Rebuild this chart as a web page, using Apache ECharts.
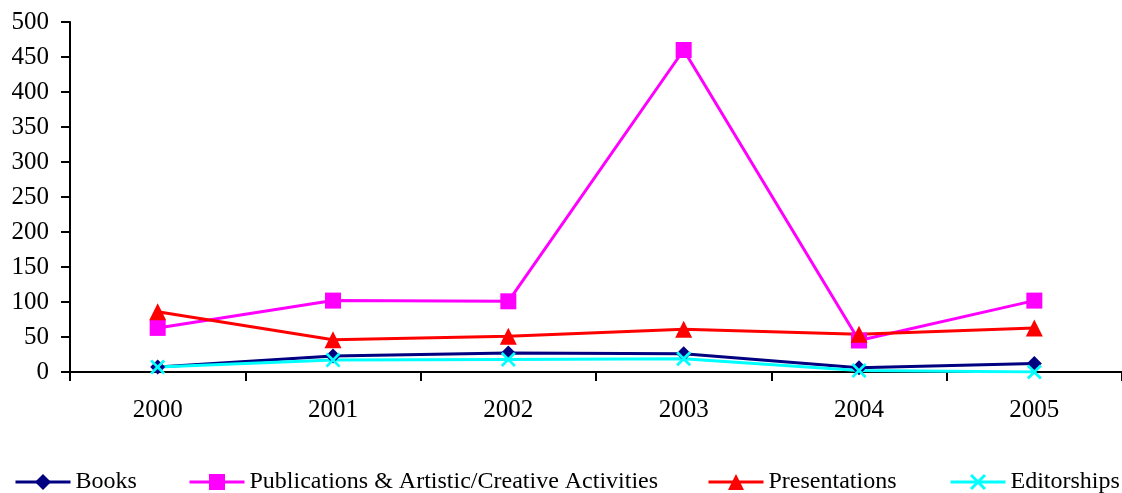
<!DOCTYPE html>
<html><head><meta charset="utf-8">
<script src="https://cdn.jsdelivr.net/npm/echarts@6/dist/echarts.min.js"></script>
<style>html,body{margin:0;padding:0;background:#fff}#c{width:1122px;height:493px}</style>
</head><body><div id="c"></div>
<script>
const categories = ['2000','2001','2002','2003','2004','2005'];
const books = [7, 23, 27, 26, 6, 12];
const publications = [63, 102, 101, 460, 45, 102];
const presentations = [86, 46, 51, 61, 54, 63];
const editorships = [7, 17, 18, 19, 2, 0];
const yTicks = [0, 50, 100, 150, 200, 250, 300, 350, 400, 450, 500];

const font = 'Liberation Serif';
const xPath = 'path://M0,1.3 L1.3,0 L5,3.7 L8.7,0 L10,1.3 L6.3,5 L10,8.7 L8.7,10 L5,6.3 L1.3,10 L0,8.7 L3.7,5 Z';

function mk(name, data, color, symbol, size) {
  return {
    name, type: 'line', data, symbol, symbolSize: size,
    lineStyle: { color, width: 3 }, itemStyle: { color },
    animation: false
  };
}
function lg(name, left) {
  return {
    data: [name], left, top: 470, itemWidth: 55, itemHeight: 20,
    lineStyle: { width: 3 },
    textStyle: { fontFamily: font, fontSize: 24, color: '#000' },
    padding: 0, itemGap: 0
  };
}

const chart = echarts.init(document.getElementById('c'));
chart.setOption({
  backgroundColor: '#fff',
  animation: false,
  grid: { left: 70, top: 22, width: 1056, height: 350 },
  legend: [
    lg('Books', 14),
    lg('Publications & Artistic/Creative Activities', 188),
    lg('Presentations', 707),
    lg('Editorships', 949)
  ],
  xAxis: {
    type: 'category', data: categories, boundaryGap: true,
    axisLine: { lineStyle: { color: '#000', width: 2 } },
    axisTick: { show: true, length: 9, inside: false, lineStyle: { color: '#000', width: 2 } },
    axisLabel: { fontFamily: font, fontSize: 25, color: '#000', margin: 26 },
    splitLine: { show: false }
  },
  yAxis: {
    type: 'value', min: yTicks[0], max: yTicks[yTicks.length-1], interval: 50,
    axisLine: { show: true, lineStyle: { color: '#000', width: 2 } },
    axisTick: { show: true, length: 9, lineStyle: { color: '#000', width: 2 } },
    axisLabel: { fontFamily: font, fontSize: 25, color: '#000', margin: 21 },
    splitLine: { show: false }
  },
  series: [
    mk('Books', books, '#000080', 'diamond', 15),
    mk('Publications & Artistic/Creative Activities', publications, '#FF00FF', 'rect', 16),
    mk('Presentations', presentations, '#FF0000', 'triangle', 17),
    mk('Editorships', editorships, '#00FFFF', xPath, 15)
  ]
});
</script></body></html>
